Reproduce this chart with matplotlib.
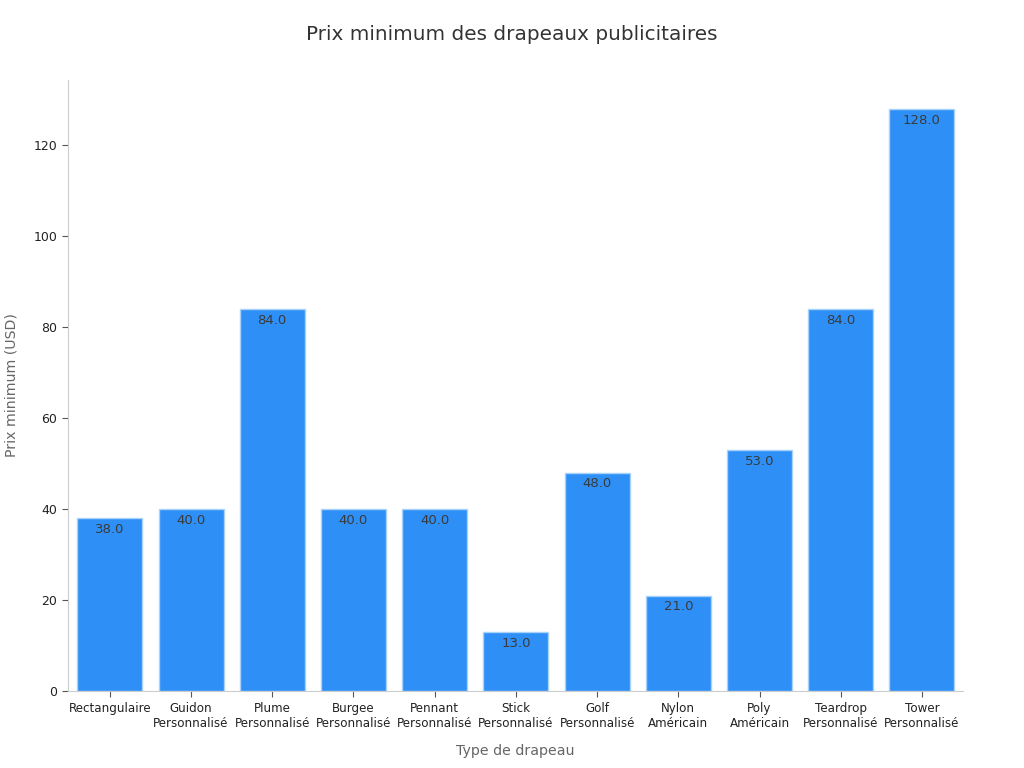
import matplotlib
matplotlib.use('Agg')
import matplotlib.pyplot as plt

# Flag types and their minimum prices
categories = ['Rectangulaire', 'Guidon\nPersonnalisé', 'Plume\nPersonnalisé',
              'Burgee\nPersonnalisé', 'Pennant\nPersonnalisé', 'Stick\nPersonnalisé',
              'Golf\nPersonnalisé', 'Nylon\nAméricain', 'Poly\nAméricain',
              'Teardrop\nPersonnalisé', 'Tower\nPersonnalisé']
prices = [38.0, 40.0, 84.0, 40.0, 40.0, 13.0, 48.0, 21.0, 53.0, 84.0, 128.0]

fig = plt.figure(figsize=(10.24, 7.68), dpi=100)
ax = fig.add_axes([0.066, 0.100, 0.874, 0.796])

x = range(len(categories))
bars = ax.bar(x, prices, width=0.8, color='#2E90F7', edgecolor='#A8D2FA', linewidth=1)

for b, v in zip(bars, prices):
  ax.text(b.get_x() + b.get_width() / 2, v - 1.0, '%.1f' % v,
          ha='center', va='top', fontsize=9.5, color='#3a3a3a')

ax.set_xticks(list(x))
ax.set_xticklabels(categories, fontsize=8.6, color='#222222')
ax.set_xlim(-0.52, 10.5)
ax.set_ylim(0, 134.4)
ax.set_yticks([0, 20, 40, 60, 80, 100, 120])
ax.tick_params(axis='y', labelsize=9, colors='#222222')
ax.tick_params(axis='both', color='#555555', length=4)

for s in ['top', 'right']:
  ax.spines[s].set_visible(False)
for s in ['left', 'bottom']:
  ax.spines[s].set_color('#cccccc')

ax.set_xlabel('Type de drapeau', fontsize=10.2, color='#666666', labelpad=10)
ax.set_ylabel('Prix minimum (USD)', fontsize=10.2, color='#666666', labelpad=11)
fig.suptitle('Prix minimum des drapeaux publicitaires', fontsize=14.4, color='#333333', y=0.968)

fig.savefig('out.png', dpi=100)
